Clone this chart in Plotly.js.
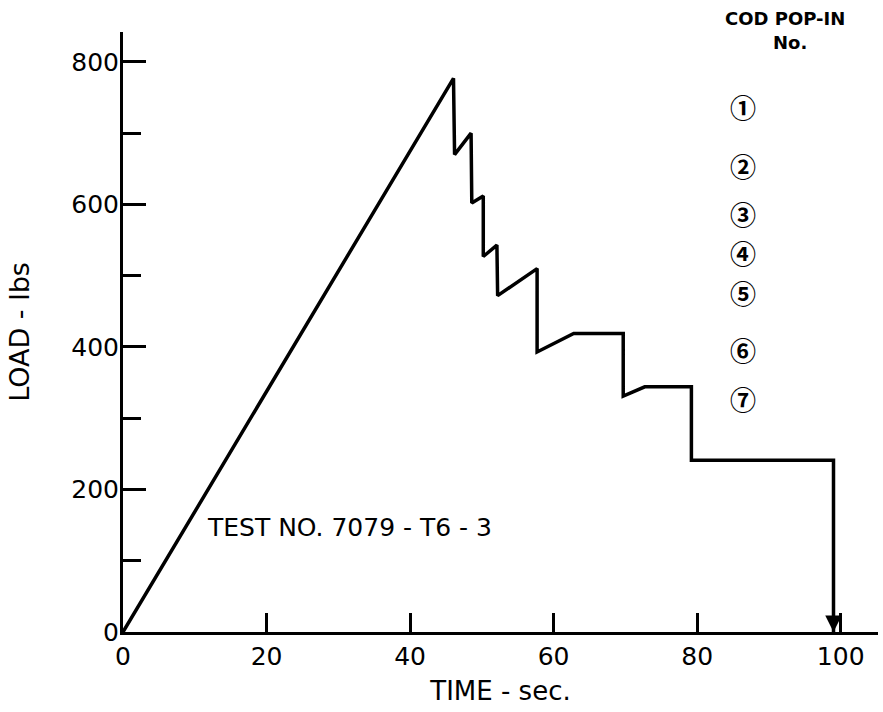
<!DOCTYPE html>
<html>
<head>
<meta charset="utf-8">
<script src="https://cdn.plot.ly/plotly-3.0.1.min.js"></script>
<style>html,body{margin:0;padding:0;background:#fff;}#chart{width:883px;height:712px;}</style>
</head>
<body>
<div id="chart"></div>
<script>
// Load vs time record
const timeSec = [0, 46.05, 46.2, 48.5, 48.6, 50.2, 50.2, 52.1, 52.2, 57.7, 57.7, 62.8, 69.7, 69.7, 72.7, 79.2, 79.2, 99.0, 99.0];
const loadLbs = [0, 777, 670, 700, 602, 612, 527, 543, 472, 510, 393, 419, 419, 331, 344, 344, 241, 241, 0];
const xTickVals = [0, 20, 40, 60, 80, 100];
const xTickText = ['0', '20', '40', '60', '80', '100'];
const yTickVals = [0, 200, 400, 600, 800];
const yTickText = ['0', '200', '400', '600', '800'];
const popInLabels = ['①', '②', '③', '④', '⑤', '⑥', '⑦'];
const popInY = [738, 655, 588, 532, 477, 396, 328];
const popInX = 86.4;
const testLabel = 'TEST NO. 7079 - T6 - 3';

const FONT = 'DejaVu Sans, Liberation Sans, sans-serif';

const annotations = [
  {x: 31.5, y: 147, xref: 'x', yref: 'y', text: testLabel, showarrow: false,
   xanchor: 'center', yanchor: 'middle',
   font: {family: FONT, size: 25, color: '#000'}},
  {x: 0.877, y: 1.023, xref: 'paper', yref: 'paper', text: 'COD POP-IN', showarrow: false,
   xanchor: 'center', yanchor: 'middle',
   font: {family: FONT, size: 18, weight: 'bold', color: '#000'}},
  {x: 0.883, y: 0.982, xref: 'paper', yref: 'paper', text: 'No.', showarrow: false,
   xanchor: 'center', yanchor: 'middle',
   font: {family: FONT, size: 18, weight: 'bold', color: '#000'}},
  {x: 99.0, y: 0, ax: 99.0, ay: 40, xref: 'x', yref: 'y', axref: 'x', ayref: 'y',
   text: '', showarrow: true, arrowhead: 2, arrowsize: 1.1, arrowwidth: 3, arrowcolor: '#000'}
];
popInLabels.forEach((t, i) => {
  annotations.push({x: popInX, y: popInY[i], xref: 'x', yref: 'y', text: t, showarrow: false,
    xanchor: 'center', yanchor: 'middle',
    font: {family: 'Noto Sans CJK JP, DejaVu Sans, sans-serif', size: 26, weight: 'bold', color: '#000'}});
});

const trace = {
  x: timeSec, y: loadLbs, type: 'scatter', mode: 'lines',
  line: {color: '#000', width: 3.5}, cliponaxis: false, hoverinfo: 'skip'
};

const layout = {
  width: 883, height: 712,
  margin: {l: 123, r: 5, t: 32, b: 80},
  paper_bgcolor: '#fff', plot_bgcolor: '#fff',
  showlegend: false,
  font: {family: FONT, color: '#000'},
  xaxis: {
    range: [0, 105.2], tickvals: xTickVals, ticktext: xTickText,
    showgrid: false, zeroline: false, showline: true, linecolor: '#000', linewidth: 3,
    ticks: 'inside', ticklen: 19, tickwidth: 3, tickcolor: '#000',
    tickfont: {family: FONT, size: 25, color: '#000'}, ticklabelstandoff: 0,
    title: {text: 'TIME - sec.', font: {family: FONT, size: 26, color: '#000'}, standoff: 12}
  },
  yaxis: {
    range: [0, 842], tickvals: yTickVals, ticktext: yTickText,
    showgrid: false, zeroline: false, showline: true, linecolor: '#000', linewidth: 3,
    ticks: 'inside', ticklen: 23, tickwidth: 3, tickcolor: '#000',
    minor: {tickvals: [100, 300, 500, 700], ticks: 'inside', ticklen: 18, tickwidth: 3, tickcolor: '#000', showgrid: false},
    tickfont: {family: FONT, size: 25, color: '#000'}, ticklabelstandoff: -4,
    title: {text: 'LOAD - lbs', font: {family: FONT, size: 27, color: '#000'}, standoff: 34}
  },
  annotations: annotations
};

Plotly.newPlot('chart', [trace], layout, {staticPlot: true, displayModeBar: false});
</script>
</body>
</html>
